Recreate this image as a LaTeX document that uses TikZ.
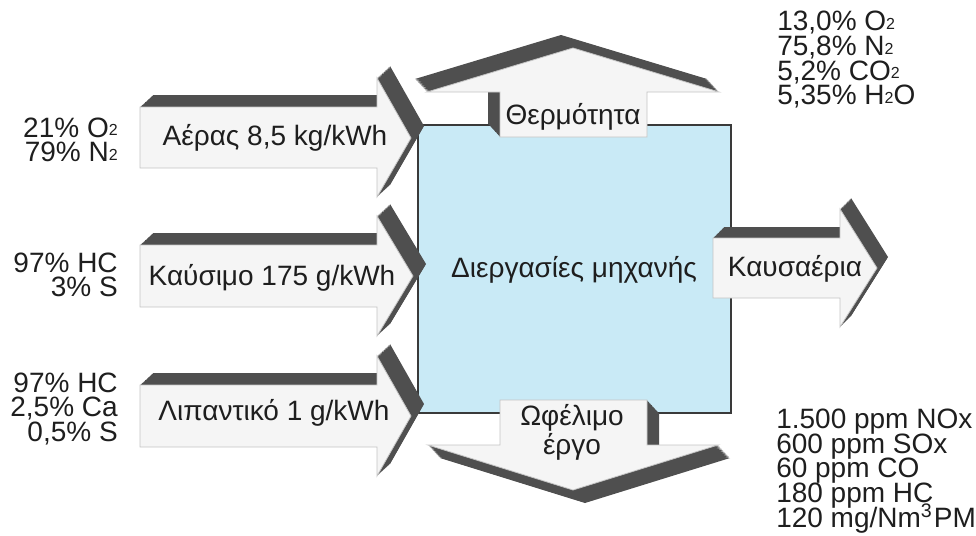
\documentclass[tikz,border=0pt]{standalone}
\usepackage{fontspec}
\setmainfont{Liberation Sans}
\definecolor{shadowc}{HTML}{4F4F4F}
\definecolor{facec}{HTML}{F5F5F5}
\definecolor{edgec}{HTML}{C4C4C4}
\definecolor{boxc}{HTML}{C9EAF6}
\definecolor{boxedge}{HTML}{3A3A3A}
\definecolor{textc}{HTML}{1E1E1E}
\newcommand\sbt[1]{\raisebox{0.1ex}{\fontsize{12pt}{12pt}\selectfont #1}}
\newcommand\tightlines{\lineskiplimit=-30pt\relax\lineskip=0pt\relax}
\newcommand\labfont{\fontsize{21pt}{18.5pt}\selectfont\tightlines}
\newcommand\workfont{\fontsize{21pt}{21.75pt}\selectfont\tightlines}
\newcommand\blockarrow[3]{%
  \foreach \i in {20,19,...,1}{%
    \pgfmathsetmacro\sx{\i*(#1)/20}%
    \pgfmathsetmacro\sy{\i*(#2)/20}%
    \fill[shadowc, shift={(\sx,\sy)}] #3;}
  \filldraw[fill=facec, draw=edgec, line width=0.6pt] #3;
}
\begin{document}
\begin{tikzpicture}[x=0.75pt,y=-0.75pt,
  lbl/.style={font=\labfont, text=textc, inner sep=0pt},
  lbltwo/.style={font=\workfont, text=textc, inner sep=0pt, align=center}]
\useasboundingbox (0,0) rectangle (976,536);
% central process box
\node[draw=boxedge, fill=boxc, line width=1.3pt, minimum width=313*0.75pt, minimum height=288*0.75pt, inner sep=0pt, anchor=north west] (proc) at (417,124) {};
% input arrows
\blockarrow{13}{-12}{(140,107) -- (377,107) -- (377,78) -- (411,138) -- (377,197) -- (377,168) -- (140,168) -- cycle}
\blockarrow{13}{-12}{(140,245) -- (377,245) -- (377,216) -- (413,276) -- (377,336) -- (377,307) -- (140,307) -- cycle}
\blockarrow{13}{-12}{(140,385) -- (377,385) -- (377,356) -- (411,416) -- (377,476) -- (377,447) -- (140,447) -- cycle}
% output arrow
\blockarrow{11}{-11}{(713,238) -- (840,238) -- (840,209) -- (877,268) -- (840,327) -- (840,298) -- (713,298) -- cycle}
% up arrow (heat)
\blockarrow{-12}{-13}{(500,137) -- (500,92) -- (427,92) -- (573,48) -- (719,92) -- (647,92) -- (647,137) -- cycle}
% down arrow (work)
\blockarrow{12}{13}{(500,400) -- (647,400) -- (647,445) -- (718,445) -- (573,490) -- (428,445) -- (500,445) -- cycle}
% texts
\node[lbl] (air) at (275,138) {Αέρας 8,5 kg/kWh};
\node[lbl] (fuel) at (272,278) {Καύσιμο 175 g/kWh};
\node[lbl] (lube) at (274,413) {Λιπαντικό 1 g/kWh};
\node[lbl] (heat) at (573,117) {Θερμότητα};
\node[lbl] (ptext) at (574,270) {Διεργασίες μηχανής};
\node[lbl] (exh) at (795,269) {Καυσαέρια};
\node[lbltwo] (work) at (572,432) {Ωφέλιμο\\έργο};
\node[lbl, align=right, anchor=east] (aircomp) at (118,140) {21\% O\sbt{2}\\79\% N\sbt{2}};
\node[lbl, align=right, anchor=east] (fuelcomp) at (118,275) {97\% HC\\3\% S};
\node[lbl, align=right, anchor=east] (lubecomp) at (118,409) {97\% HC\\2,5\% Ca\\0,5\% S};
\node[lbl, align=left, anchor=west] (exhcomp) at (777,60) {13,0\% O\sbt{2}\\75,8\% N\sbt{2}\\5,2\% CO\sbt{2}\\5,35\% H\sbt{2}O};
\node[lbl, align=left, anchor=west] (emis) at (776,471) {1.500 ppm NOx\\600 ppm SOx\\60 ppm CO\\180 ppm HC\\120 mg/Nm\textsuperscript{3}\hspace{0.05em}PM};
\end{tikzpicture}
\end{document}
